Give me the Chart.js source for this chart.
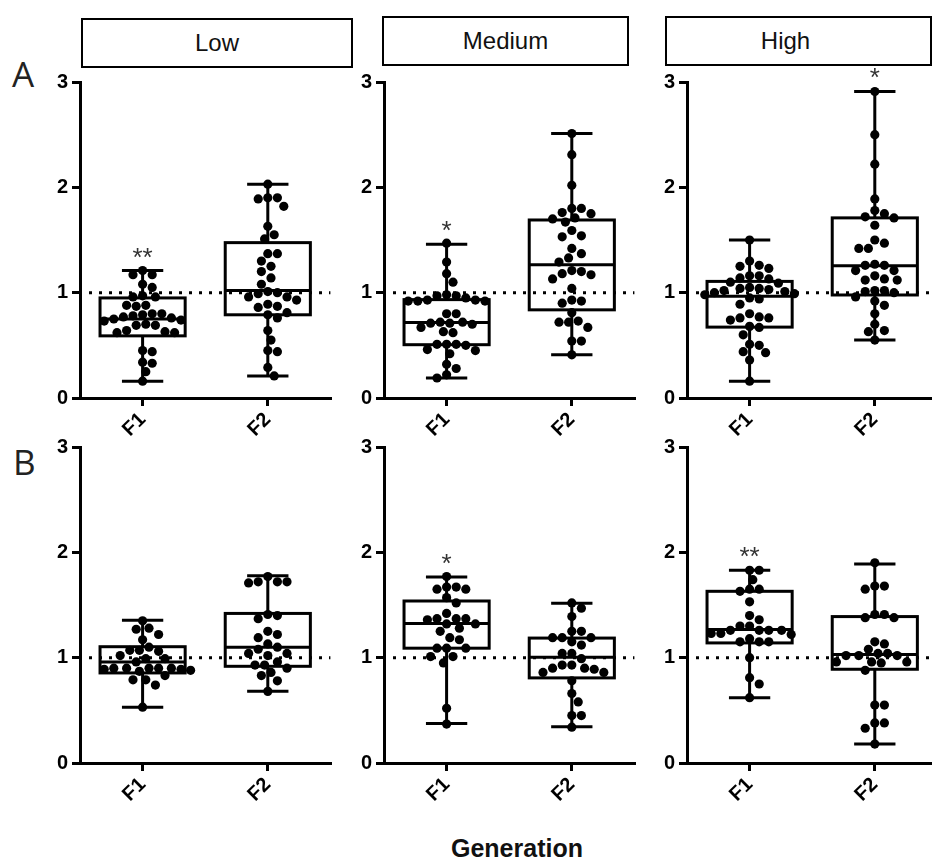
<!DOCTYPE html>
<html>
<head>
<meta charset="utf-8">
<title>Generation box plots</title>
<script src="https://cdn.jsdelivr.net/npm/chart.js@4.4.1/dist/chart.umd.min.js"></script>
<style>
  body { margin: 0; background: #fff; width: 932px; height: 859px; overflow: hidden; position: relative; font-family: "Liberation Sans", Arial, sans-serif; }
  canvas { position: absolute; }
  .strip { position: absolute; box-sizing: border-box; border: 2px solid #000; height: 50px; font-size: 24px; line-height: 46px; text-align: center; color: #111; }
  .row { position: absolute; font-family: "Open Sans", sans-serif; font-size: 35px; line-height: 35px; color: #222; }
  #xtitle { position: absolute; left: 417px; width: 200px; top: 836px; text-align: center; font-weight: bold; font-size: 25px; line-height: 25px; color: #111; }
</style>
</head>
<body>
<div class="strip" style="left:81px; top:18px; width:272px;">Low</div>
<div class="strip" style="left:382px; top:16px; width:247px;">Medium</div>
<div class="strip" style="left:665px; top:16px; width:267px; padding-right:26px;">High</div>
<div class="row" style="left:12px; top:56px;">A</div>
<div class="row" style="left:13px; top:444px;">B</div>
<div id="xtitle">Generation</div>

<script>
// categories / labels
const generations = ['F1', 'F2'];
const levels = ['Low', 'Medium', 'High'];
const yTicks = [0, 1, 2, 3];
const refValue = 1;

// row A, individual values
const aLowF1 = [1.21, 1.17, 1.17, 1.08, 1.05, 0.97, 0.96, 0.96, 0.88, 0.88, 0.87, 0.80, 0.80, 0.79, 0.78, 0.77, 0.76,
  0.75, 0.74, 0.73, 0.70, 0.69, 0.69, 0.64, 0.63, 0.62, 0.62, 0.45, 0.44, 0.34, 0.33, 0.25, 0.16];
const aLowF2 = [2.03, 1.90, 1.90, 1.89, 1.82, 1.63, 1.55, 1.51, 1.37, 1.37, 1.30, 1.25, 1.20, 1.14, 1.08, 1.01, 1.00,
  0.99, 0.96, 0.96, 0.93, 0.89, 0.87, 0.86, 0.81, 0.79, 0.76, 0.64, 0.55, 0.45, 0.44, 0.29, 0.21];
const aMedF1 = [1.47, 1.29, 1.18, 1.10, 0.98, 0.97, 0.97, 0.95, 0.93, 0.93, 0.92, 0.92, 0.92, 0.80, 0.80, 0.72, 0.72,
  0.71, 0.71, 0.70, 0.67, 0.63, 0.62, 0.51, 0.51, 0.51, 0.50, 0.46, 0.45, 0.42, 0.32, 0.28, 0.22, 0.19];
const aMedF2 = [2.51, 2.31, 2.02, 1.80, 1.80, 1.76, 1.75, 1.71, 1.70, 1.67, 1.59, 1.54, 1.53, 1.42, 1.37, 1.33, 1.29,
  1.21, 1.20, 1.18, 1.17, 1.13, 1.04, 0.93, 0.92, 0.90, 0.81, 0.73, 0.72, 0.72, 0.67, 0.54, 0.54, 0.41];
const aHighF1 = [1.50, 1.30, 1.26, 1.25, 1.23, 1.16, 1.16, 1.14, 1.13, 1.10, 1.09, 1.05, 1.04, 1.04, 1.03, 1.02, 1.01,
  1.00, 0.99, 0.98, 0.95, 0.94, 0.89, 0.80, 0.77, 0.76, 0.76, 0.74, 0.68, 0.67, 0.60, 0.51, 0.50, 0.44, 0.43, 0.36, 0.16];
const aHighF2 = [2.91, 2.50, 2.22, 1.89, 1.78, 1.75, 1.72, 1.71, 1.64, 1.50, 1.47, 1.42, 1.42, 1.27, 1.26, 1.26, 1.21,
  1.21, 1.16, 1.13, 1.12, 1.12, 1.02, 1.02, 1.01, 1.00, 0.96, 0.92, 0.88, 0.80, 0.70, 0.64, 0.63, 0.55];

// row B, individual values
const bLowF1 = [1.35, 1.28, 1.27, 1.22, 1.17, 1.10, 1.07, 1.07, 1.06, 1.02, 0.99, 0.99, 0.96, 0.90, 0.90, 0.90, 0.90,
  0.90, 0.89, 0.89, 0.88, 0.87, 0.83, 0.79, 0.79, 0.74, 0.53];
const bLowF2 = [1.77, 1.72, 1.72, 1.72, 1.71, 1.41, 1.40, 1.37, 1.25, 1.22, 1.19, 1.13, 1.10, 1.08, 1.04, 1.04, 1.02,
  0.96, 0.93, 0.93, 0.90, 0.86, 0.83, 0.78, 0.68];
const bMedF1 = [1.77, 1.67, 1.67, 1.65, 1.65, 1.57, 1.52, 1.42, 1.37, 1.37, 1.37, 1.36, 1.32, 1.32, 1.28, 1.25, 1.19,
  1.17, 1.09, 1.09, 1.09, 1.01, 1.01, 0.95, 0.52, 0.37];
const bMedF2 = [1.52, 1.47, 1.39, 1.25, 1.25, 1.19, 1.19, 1.19, 1.15, 1.12, 1.04, 1.04, 0.99, 0.93, 0.93, 0.90, 0.90,
  0.89, 0.86, 0.86, 0.78, 0.66, 0.58, 0.45, 0.45, 0.34];
const bHighF1 = [1.83, 1.83, 1.74, 1.65, 1.65, 1.63, 1.53, 1.40, 1.36, 1.30, 1.30, 1.26, 1.26, 1.26, 1.26, 1.23, 1.23,
  1.22, 1.18, 1.15, 1.15, 1.15, 1.00, 0.81, 0.75, 0.62];
const bHighF2 = [1.90, 1.68, 1.68, 1.65, 1.41, 1.41, 1.38, 1.38, 1.15, 1.13, 1.08, 1.04, 1.04, 1.02, 1.02, 1.02, 0.96,
  0.96, 0.96, 0.95, 0.88, 0.55, 0.55, 0.38, 0.38, 0.33, 0.18];

// box stats: [min, q1, median, q3, max]
const aLowF1Box = [0.16, 0.59, 0.75, 0.95, 1.21];
const aLowF2Box = [0.21, 0.79, 1.02, 1.475, 2.03];
const aMedF1Box = [0.19, 0.506, 0.717, 0.934, 1.46];
const aMedF2Box = [0.41, 0.837, 1.264, 1.69, 2.51];
const aHighF1Box = [0.16, 0.673, 0.965, 1.107, 1.50];
const aHighF2Box = [0.55, 0.978, 1.255, 1.71, 2.91];
const bLowF1Box = [0.53, 0.855, 0.96, 1.104, 1.356];
const bLowF2Box = [0.68, 0.918, 1.10, 1.42, 1.777];
const bMedF1Box = [0.374, 1.09, 1.324, 1.538, 1.767];
const bMedF2Box = [0.343, 0.808, 1.003, 1.186, 1.516];
const bHighF1Box = [0.62, 1.14, 1.267, 1.63, 1.83];
const bHighF2Box = [0.18, 0.89, 1.03, 1.39, 1.89];

// significance marks per panel [F1, F2]
const aMarks = [['**', ''], ['*', ''], ['', '*']];
const bMarks = [['', ''], ['*', ''], ['**', '']];

const rowValues = [
  [[aLowF1, aLowF2], [aMedF1, aMedF2], [aHighF1, aHighF2]],
  [[bLowF1, bLowF2], [bMedF1, bMedF2], [bHighF1, bHighF2]]
];
const rowBoxes = [
  [[aLowF1Box, aLowF2Box], [aMedF1Box, aMedF2Box], [aHighF1Box, aHighF2Box]],
  [[bLowF1Box, bLowF2Box], [bMedF1Box, bMedF2Box], [bHighF1Box, bHighF2Box]]
];
const rowMarks = [aMarks, bMarks];

// layout
const panelLeft = [80, 384, 687];
const rowTop = [80, 445];
const PLOT_W = 255, PLOT_H = 318, Y_AXIS_W = 60, PAD_TOP = 14, X_AXIS_H = 62;
const tickFont = { family: 'Liberation Sans', weight: 'bold', size: 20 };

// boxes, whiskers, dotted line at 1 and the asterisks
const boxPlugin = {
  id: 'boxes',
  beforeDatasetsDraw(chart, args, opts) {
    const { ctx, chartArea, scales: { x, y } } = chart;
    ctx.save();
    ctx.strokeStyle = '#000';
    ctx.lineWidth = 3;
    const ry = y.getPixelForValue(refValue);
    ctx.setLineDash([3, 7]);
    ctx.beginPath();
    ctx.moveTo(chartArea.left + 9, ry);
    ctx.lineTo(chartArea.right, ry);
    ctx.stroke();
    ctx.setLineDash([]);

    opts.stats.forEach((s, i) => {
      const [lo, q1, med, q3, hi] = s;
      const cx = x.getPixelForValue(i + 1);
      const hw = x.getPixelForValue(i + 1 + opts.boxWidth / 2) - cx;
      const cw = x.getPixelForValue(i + 1 + opts.capWidth / 2) - cx;
      const py = v => y.getPixelForValue(v);
      ctx.beginPath();
      ctx.moveTo(cx, py(hi)); ctx.lineTo(cx, py(q3));
      ctx.moveTo(cx, py(q1)); ctx.lineTo(cx, py(lo));
      ctx.moveTo(cx - cw, py(hi)); ctx.lineTo(cx + cw, py(hi));
      ctx.moveTo(cx - cw, py(lo)); ctx.lineTo(cx + cw, py(lo));
      ctx.moveTo(cx - hw, py(med)); ctx.lineTo(cx + hw, py(med));
      ctx.stroke();
      ctx.strokeRect(cx - hw, py(q3), 2 * hw, py(q1) - py(q3));

      const mark = opts.marks[i];
      if (mark) {
        ctx.fillStyle = '#333';
        ctx.font = '26px "Liberation Sans"';
        ctx.textAlign = 'center';
        ctx.textBaseline = 'alphabetic';
        ctx.fillText(mark, cx, py(hi) - 5);
      }
    });
    ctx.restore();
  }
};

// spread the dots sideways so they do not overlap (beeswarm layout)
function arrangeSwarm(chart, groups) {
  const { x, y } = chart.scales;
  const unit = x.getPixelForValue(2) - x.getPixelForValue(1);
  const gap = 9.6;
  groups.forEach((values, i) => {
    const placed = [];
    chart.data.datasets[i].data = values.map(v => {
      const py = y.getPixelForValue(v);
      let off = 0;
      for (let k = 0; k < 80; k++) {
        const cand = (k % 2 ? 1 : -1) * Math.ceil(k / 2) * gap / 3;
        if (placed.every(p => Math.hypot(p.px - cand, p.py - py) >= gap)) { off = cand; break; }
      }
      placed.push({ px: off, py });
      return { x: i + 1 + off / unit, y: v };
    });
  });
  chart.update('none');
}

rowValues.forEach((row, r) => {
  row.forEach((groups, c) => {
    const canvas = document.createElement('canvas');
    canvas.width = Y_AXIS_W + PLOT_W;
    canvas.height = PAD_TOP + PLOT_H + X_AXIS_H;
    canvas.style.left = (panelLeft[c] - Y_AXIS_W) + 'px';
    canvas.style.top = (rowTop[r] - PAD_TOP) + 'px';
    canvas.setAttribute('aria-label', levels[c]);
    document.body.appendChild(canvas);

    const chart = new Chart(canvas, {
      type: 'scatter',
      data: {
        datasets: groups.map((values, i) => ({
          label: generations[i],
          data: values.map(v => ({ x: i + 1, y: v })),
          pointRadius: 4.6,
          pointBackgroundColor: '#000',
          pointBorderWidth: 0,
          clip: false
        }))
      },
      options: {
        responsive: false,
        devicePixelRatio: 1,
        animation: false,
        events: [],
        layout: { padding: { top: PAD_TOP, right: 0, bottom: 0, left: 0 } },
        plugins: {
          legend: { display: false },
          tooltip: { enabled: false },
          boxes: { stats: rowBoxes[r][c], marks: rowMarks[r][c], boxWidth: 0.68, capWidth: 0.33 }
        },
        scales: {
          x: {
            type: 'linear',
            min: 0.5,
            max: 2.5,
            afterBuildTicks: s => { s.ticks = generations.map((g, i) => ({ value: i + 1 })); },
            afterFit: s => { s.height = X_AXIS_H; },
            ticks: {
              autoSkip: false,
              minRotation: 45,
              maxRotation: 45,
              padding: 2,
              color: '#000',
              font: tickFont,
              callback: v => generations[v - 1]
            },
            grid: { drawOnChartArea: false, drawTicks: true, tickLength: 8, tickWidth: 3, tickColor: '#000', lineWidth: 3 },
            border: { display: true, color: '#000', width: 3 }
          },
          y: {
            min: yTicks[0],
            max: yTicks[yTicks.length - 1],
            afterBuildTicks: s => { s.ticks = yTicks.map(v => ({ value: v })); },
            afterFit: s => { s.width = Y_AXIS_W; },
            ticks: { padding: 4, color: '#000', font: tickFont },
            grid: { drawOnChartArea: false, drawTicks: true, tickLength: 8, tickWidth: 3, tickColor: '#000', lineWidth: 3 },
            border: { display: true, color: '#000', width: 3 }
          }
        }
      },
      plugins: [boxPlugin]
    });
    arrangeSwarm(chart, groups);
  });
});
</script>
</body>
</html>
